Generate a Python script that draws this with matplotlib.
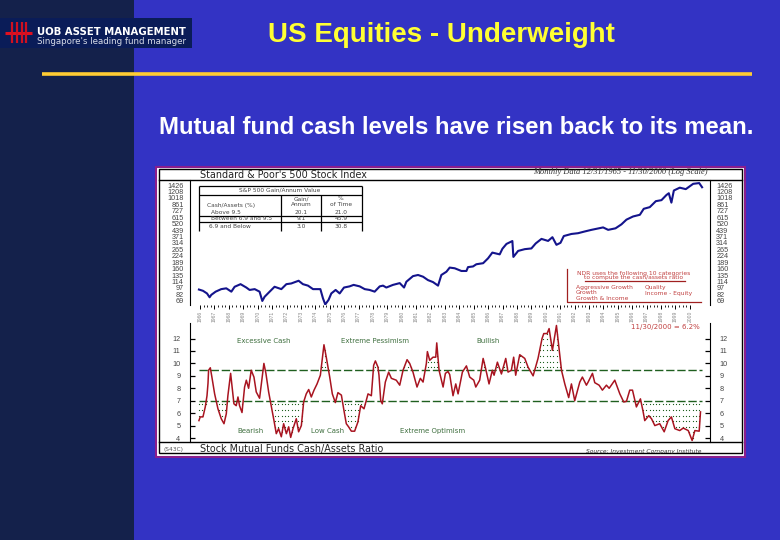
import numpy as np
import matplotlib
matplotlib.use("Agg")
import matplotlib.pyplot as plt
from matplotlib.patches import Rectangle
from matplotlib.ticker import NullFormatter

plt.rcParams['font.family'] = ['Liberation Sans', 'DejaVu Sans']

# S&P 500
spx_years = [1965.92, 1966.20, 1966.48, 1966.66, 1966.78, 1967.08, 1967.47, 1967.82, 1968.17, 1968.40,
             1968.81, 1969.21, 1969.44, 1969.79, 1970.13, 1970.32, 1970.48, 1970.83, 1971.17, 1971.64,
             1971.99, 1972.33, 1972.84, 1973.14, 1973.49, 1973.84, 1974.35, 1974.53, 1974.69, 1974.92,
             1975.11, 1975.41, 1975.69, 1975.99, 1976.38, 1976.66, 1977.08, 1977.43, 1977.77, 1978.12,
             1978.47, 1978.70, 1978.93, 1979.39, 1979.86, 1980.16, 1980.32, 1980.78, 1981.13, 1981.48,
             1981.82, 1982.17, 1982.52, 1982.75, 1983.10, 1983.33, 1983.68, 1984.14, 1984.49, 1984.60,
             1984.95, 1985.18, 1985.65, 1985.99, 1986.29, 1986.80, 1986.99, 1987.27, 1987.68, 1987.75,
             1988.08, 1988.54, 1989.00, 1989.30, 1989.70, 1990.16, 1990.46, 1990.74, 1991.02, 1991.25,
             1991.78, 1992.24, 1992.71, 1993.17, 1993.98, 1994.33, 1994.84, 1995.25, 1995.60, 1996.06,
             1996.53, 1996.80, 1997.22, 1997.64, 1998.03, 1998.38, 1998.54, 1998.72, 1998.89, 1999.30,
             1999.72, 2000.23, 2000.65, 2000.85]
spx_values = [93, 90, 84, 76, 81, 88, 94, 96, 88, 100,
              107, 98, 92, 94, 88, 69, 77, 88, 100, 94,
              107, 109, 117, 107, 103, 94, 94, 74, 63, 71,
              84, 92, 84, 98, 101, 105, 101, 94, 92, 88,
              101, 103, 98, 105, 110, 98, 114, 132, 136, 130,
              119, 113, 103, 136, 148, 165, 162, 151, 151, 167,
              170, 180, 185, 210, 244, 233, 270, 306, 330, 218,
              255, 267, 272, 310, 349, 331, 365, 299, 315, 376,
              397, 405, 424, 442, 471, 442, 460, 510, 577, 627,
              655, 766, 800, 935, 960, 1100, 1150, 900, 1235, 1330,
              1280, 1470, 1500, 1345]

# cash/assets ratio
cash_years = [1965.92, 1966.01, 1966.20, 1966.36, 1966.48, 1966.55, 1966.59, 1966.71, 1966.82, 1967.01,
              1967.24, 1967.47, 1967.66, 1967.82, 1967.93, 1968.12, 1968.23, 1968.35, 1968.51, 1968.63,
              1968.74, 1968.91, 1969.09, 1969.21, 1969.37, 1969.55, 1969.74, 1969.90, 1970.13, 1970.30,
              1970.43, 1970.57, 1970.76, 1970.94, 1971.13, 1971.29, 1971.45, 1971.64, 1971.80, 1971.99,
              1972.15, 1972.29, 1972.45, 1972.68, 1972.84, 1973.03, 1973.19, 1973.37, 1973.54, 1973.72,
              1973.91, 1974.12, 1974.35, 1974.49, 1974.60, 1974.76, 1975.00, 1975.18, 1975.39, 1975.57,
              1975.81, 1975.99, 1976.15, 1976.31, 1976.50, 1976.73, 1976.96, 1977.15, 1977.38, 1977.66,
              1977.89, 1978.05, 1978.17, 1978.35, 1978.42, 1978.54, 1978.65, 1978.86, 1979.09, 1979.28,
              1979.62, 1979.86, 1980.09, 1980.37, 1980.55, 1980.78, 1981.06, 1981.29, 1981.48, 1981.71,
              1981.78, 1981.94, 1982.17, 1982.36, 1982.43, 1982.59, 1982.87, 1983.03, 1983.21, 1983.33,
              1983.56, 1983.75, 1983.91, 1984.21, 1984.49, 1984.72, 1985.00, 1985.14, 1985.41, 1985.65,
              1985.83, 1986.06, 1986.29, 1986.41, 1986.64, 1986.92, 1987.22, 1987.38, 1987.61, 1987.77,
              1987.91, 1988.19, 1988.54, 1988.77, 1989.12, 1989.46, 1989.74, 1989.86, 1990.09, 1990.23,
              1990.46, 1990.74, 1990.92, 1991.09, 1991.32, 1991.59, 1991.78, 1992.01, 1992.36, 1992.54,
              1992.82, 1992.94, 1993.24, 1993.40, 1993.70, 1993.93, 1994.21, 1994.40, 1994.79, 1995.14,
              1995.41, 1995.60, 1995.83, 1996.02, 1996.29, 1996.57, 1996.76, 1996.87, 1997.15, 1997.34,
              1997.57, 1997.91, 1998.22, 1998.49, 1998.72, 1998.96, 1999.30, 1999.54, 1999.89, 2000.16,
              2000.35, 2000.65, 2000.74]
cash_values = [5.4, 5.7, 5.7, 6.5, 7.4, 8.4, 9.45, 9.65, 8.9, 7.55,
               6.35, 5.55, 5.15, 5.95, 7.4, 9.2, 8.0, 6.75, 6.6, 7.3,
               6.6, 6.05, 8.1, 8.65, 8.0, 9.45, 8.9, 7.7, 7.2, 8.75,
               10.0, 9.2, 7.7, 6.6, 5.4, 4.35, 4.75, 4.1, 5.15, 4.35,
               4.9, 4.05, 4.75, 5.55, 4.5, 5.0, 6.9, 7.55, 7.9, 7.3,
               7.85, 8.35, 9.05, 10.4, 11.5, 10.5, 8.9, 7.55, 6.85, 7.65,
               7.45, 6.2, 5.15, 4.9, 4.55, 4.55, 5.3, 6.6, 6.35, 7.55,
               7.4, 9.85, 10.2, 9.7, 9.05, 7.0, 6.75, 8.5, 9.3, 8.8,
               8.65, 8.25, 9.45, 10.3, 10.0, 9.3, 8.1, 8.8, 8.5, 10.0,
               10.95, 10.25, 10.5, 10.5, 11.65, 9.45, 8.1, 9.2, 9.35, 9.1,
               7.4, 8.35, 7.55, 9.3, 9.8, 8.9, 8.65, 8.1, 8.65, 10.4,
               9.55, 8.35, 9.45, 9.05, 10.1, 9.15, 10.4, 9.3, 9.45, 10.5,
               9.05, 10.7, 10.4, 9.7, 9.0, 10.4, 12.0, 12.4, 12.4, 12.8,
               11.05, 13.05, 11.2, 9.45, 8.35, 7.25, 8.35, 7.0, 8.5, 8.9,
               8.25, 8.5, 9.2, 8.45, 8.25, 7.85, 8.25, 8.0, 8.65, 7.55,
               6.9, 6.95, 7.85, 7.85, 6.5, 7.15, 6.1, 5.4, 5.8, 5.55,
               5.0, 5.15, 4.5, 5.4, 5.7, 4.75, 4.6, 4.8, 4.6, 3.8,
               4.6, 4.55, 6.1]

spx_labels = [1426, 1208, 1018, 861, 727, 615, 520, 439, 371, 314, 265, 224, 189, 160, 135, 114, 97, 82, 69]
spx_marks = [1426, 1018, 727, 439, 314, 224, 160, 114, 69]
cash_ticks = [4, 5, 6, 7, 8, 9, 10, 11, 12]
year_labels = list(range(1966, 2001))
upper_band = 9.5
lower_band = 7.0

W, H = 780, 540
BLUE = '#3333C4'
NAVY = '#14214B'
GREEN = '#1F5F1F'
RED = '#C04040'
GREY = '#555555'


def add_px_axes(fig, left, top, right, bottom):
    # axes placed by pixel box of the slide
    return fig.add_axes([left / W, 1 - bottom / H, (right - left) / W, (bottom - top) / H])


fig = plt.figure(figsize=(7.8, 5.4), dpi=100, facecolor=BLUE)

# slide background, pixel coordinates
bg = fig.add_axes([0, 0, 1, 1])
bg.set_xlim(0, W)
bg.set_ylim(H, 0)
bg.axis('off')
bg.add_patch(Rectangle((0, 0), 134, H, color=NAVY, lw=0))
bg.add_patch(Rectangle((0, 18), 192, 30, color='#0A1C58', lw=0))
bg.plot([42, 752], [73.5, 73.5], color='#FFCC33', lw=2.6, solid_capstyle='butt')

# logo
bg.plot([5, 32], [33, 33], color='#E01020', lw=2.2, solid_capstyle='butt')
for lx in [12, 17, 22, 26]:
    bg.plot([lx, lx], [22, 43], color='#D01020', lw=1.6, solid_capstyle='butt')
bg.text(37, 32, 'UOB ASSET MANAGEMENT', color='white', fontsize=7.3, fontweight='bold', va='center', ha='left',
        family='DejaVu Sans')
bg.text(37, 41, "Singapore's leading fund manager", color='#D8DCE8', fontsize=6.2, va='center', ha='left',
        family='DejaVu Sans')

bg.text(441, 35, 'US Equities - Underweight', color='#FFFF33', fontsize=20, fontweight='bold',
        ha='center', va='center')
bg.text(456, 127, 'Mutual fund cash levels have risen back to its mean.', color='white', fontsize=17.2,
        fontweight='bold', ha='center', va='center')

# chart picture
bg.add_patch(Rectangle((156, 167), 589, 290, facecolor='white', edgecolor='#8A1E8C', lw=1.5))
bg.add_patch(Rectangle((159, 169), 583, 284, facecolor='none', edgecolor='black', lw=1))
bg.plot([159, 742], [180, 180], color='black', lw=1)
bg.plot([159, 742], [442, 442], color='black', lw=1)

bg.text(200, 175.5, "Standard & Poor's 500 Stock Index", fontsize=6.9, color='#222222', va='center', family='DejaVu Sans')
bg.text(533, 172.5, 'Monthly Data 12/31/1965 - 11/30/2000 (Log Scale)', fontsize=6, style='italic', color='#333333',
        va='center', family='Liberation Serif')
bg.text(200, 449, 'Stock Mutual Funds Cash/Assets Ratio', fontsize=6.9, color='#222222', va='center', family='DejaVu Sans')
bg.text(163, 449.5, '(S43C)', fontsize=4.2, color=GREY, va='center', family='DejaVu Sans')
bg.text(644, 451, 'Source: Investment Company Institute', fontsize=4.3, style='italic', color='#333333',
        ha='center', va='center', family='DejaVu Sans')

# table on the upper panel
for x0, y0, x1, y1 in [(199, 186, 362, 186), (199, 195, 362, 195), (199, 216, 362, 216), (199, 222, 362, 222),
                       (199, 186, 199, 231), (362, 186, 362, 231), (281, 195, 281, 231), (321, 195, 321, 231)]:
    bg.plot([x0, x1], [y0, y1], color='black', lw=0.9, solid_capstyle='butt')
table_kw = dict(fontsize=4.2, color='#444444', va='center', family='DejaVu Sans')
bg.text(280, 190.5, 'S&P 500 Gain/Annum Value', ha='center', **table_kw)
bg.text(207, 205, 'Cash/Assets (%)', **table_kw)
bg.text(301, 199, 'Gain/', ha='center', **table_kw)
bg.text(301, 205, 'Annum', ha='center', **table_kw)
bg.text(341, 199, '%', ha='center', **table_kw)
bg.text(341, 205, 'of Time', ha='center', **table_kw)
for row_y, name, name_x, gain, share in [(212, 'Above 9.5', 211, '20.1', '21.0'),
                                         (219, 'Between 6.9 and 9.5', 211, '9.1', '45.9'),
                                         (226.5, '6.9 and Below', 209, '3.0', '30.8')]:
    bg.text(name_x, row_y, name, **table_kw)
    bg.text(301, row_y, gain, ha='center', **table_kw)
    bg.text(341, row_y, share, ha='center', **table_kw)

# red note box
bg.plot([567, 567, 701], [269, 302, 302], color='#A02020', lw=0.9)
bg.plot([585, 685], [280.5, 280.5], color='#A02020', lw=0.9)
note_kw = dict(fontsize=4.3, color=RED, va='center', family='DejaVu Sans')
bg.text(634, 273, 'NDR uses the following 10 categories', ha='center', **note_kw)
bg.text(634, 278, 'to compute the cash/assets ratio', ha='center', **note_kw)
bg.text(576, 288, 'Aggressive Growth', **note_kw)
bg.text(576, 293, 'Growth', **note_kw)
bg.text(576, 298, 'Growth & Income', **note_kw)
bg.text(645, 288, 'Quality', **note_kw)
bg.text(645, 293, 'Income - Equity', **note_kw)
bg.text(665, 327, '11/30/2000 = 6.2%', fontsize=5, color=RED, ha='center', va='center', family='DejaVu Sans')

# zone labels
zone_kw = dict(fontsize=5, color='#3F6F3F', ha='center', va='center', family='DejaVu Sans')
bg.text(264, 341, 'Excessive Cash', **zone_kw)
bg.text(375, 341, 'Extreme Pessimism', **zone_kw)
bg.text(488, 341, 'Bullish', **zone_kw)
bg.text(250, 431, 'Bearish', **zone_kw)
bg.text(328, 431, 'Low Cash', **zone_kw)
bg.text(433, 431, 'Extreme Optimism', **zone_kw)

x_range = (1965.30, 2001.40)

# upper panel
ax1 = add_px_axes(fig, 190, 180, 710, 305)
ax1.patch.set_alpha(0)
ax1.plot(spx_years, spx_values, color='#14148C', lw=1.5)
ax1.set_yscale('log')
ax1.set_xlim(*x_range)
ax1.set_ylim(62.1, 1625)
ax1.set_yticks(spx_labels)
ax1.set_yticklabels([str(v) for v in spx_labels])
ax1.set_yticks(spx_marks, minor=True)
ax1.yaxis.set_minor_formatter(NullFormatter())
ax1.tick_params(axis='y', which='major', length=0, labelsize=5.2, labelcolor='#444444', pad=4.5,
                left=False, right=False, labelleft=True, labelright=True)
ax1.tick_params(axis='y', which='minor', length=3.6, width=0.9, direction='in', left=True, right=True)
ax1.set_xticks(year_labels)
ax1.set_xticklabels([str(y) for y in year_labels], rotation=90)
ax1.set_xticks([y + q for y in year_labels[:-1] for q in (0.25, 0.5, 0.75)], minor=True)
ax1.tick_params(axis='x', which='major', length=2.6, width=0.7, labelsize=3.6, labelcolor='#888888', pad=1.5, direction='out')
ax1.tick_params(axis='x', which='minor', length=1.4, width=0.6, direction='out')
ax1.spines['top'].set_visible(False)
ax1.spines['bottom'].set_visible(False)

# lower panel
ax2 = add_px_axes(fig, 190, 323, 710, 442)
ax2.patch.set_alpha(0)
ax2.set_xlim(*x_range)
ax2.set_ylim(3.68, 13.25)
ax2.plot([spx_years[0], 2000.85], [upper_band, upper_band], color=GREEN, lw=1, dashes=(6, 2))
ax2.plot([spx_years[0], 2000.85], [lower_band, lower_band], color=GREEN, lw=1, dashes=(6, 2))

# stippling between the ratio and the bands
grid_x = np.arange(1965.92, 2000.85, 0.23)
grid_val = np.interp(grid_x, cash_years, cash_values)
dot_x = []
dot_y = []
for gx, gv in zip(grid_x, grid_val):
    for row in np.arange(lower_band - 0.3, 3.7, -0.45):
        if row > gv:
            dot_x.append(gx)
            dot_y.append(row)
    for row in np.arange(upper_band + 0.2, 13.2, 0.45):
        if row < gv:
            dot_x.append(gx)
            dot_y.append(row)
ax2.plot(dot_x, dot_y, ls='none', marker='s', ms=0.8, mew=0, color=GREEN)

ax2.plot(cash_years, cash_values, color='#A81420', lw=1.1)
ax2.set_xticks([])
ax2.set_yticks(cash_ticks)
ax2.set_yticklabels([str(v) for v in cash_ticks])
ax2.tick_params(axis='y', length=3.6, width=0.9, direction='in', left=True, right=True, labelleft=True, labelright=True,
                labelsize=5.2, labelcolor='#444444', pad=7)
ax2.spines['top'].set_visible(False)
ax2.spines['bottom'].set_visible(False)

fig.savefig('out.png', dpi=100, facecolor=BLUE)
